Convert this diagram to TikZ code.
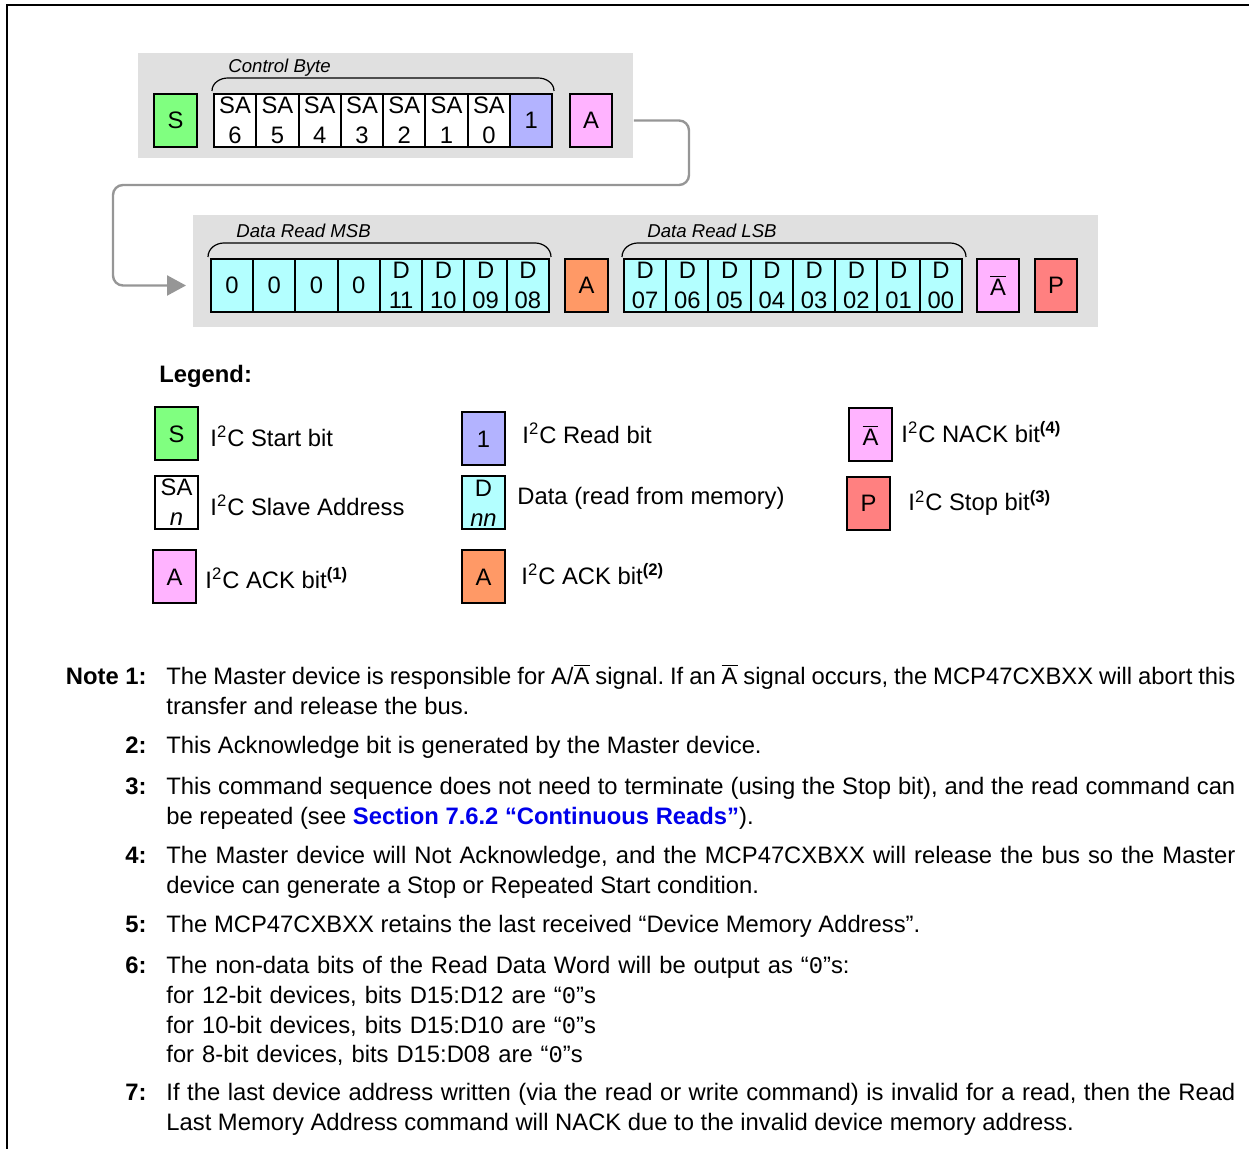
\documentclass[tikz,border=0pt]{standalone}
\usepackage{fontspec}
\setmainfont{Liberation Sans}
\setmonofont{Liberation Mono}
\usetikzlibrary{arrows.meta}
\definecolor{cS}{RGB}{128,255,128}
\definecolor{cR}{RGB}{179,179,255}
\definecolor{cA}{RGB}{255,179,255}
\definecolor{cD}{RGB}{179,255,255}
\definecolor{cO}{RGB}{255,153,102}
\definecolor{cP}{RGB}{255,128,128}
\definecolor{cG}{RGB}{224,224,224}
\definecolor{cL}{RGB}{150,150,150}
\definecolor{cBlue}{RGB}{0,0,235}
\newcommand\fsmain{\fontsize{11.9}{14.75}\selectfont}
\newcommand\fssmall{\fontsize{9.3}{11}\selectfont}
\newcommand\nA{$\overline{\mbox{A}}$}
\frenchspacing
\begin{document}
\begin{tikzpicture}[x=0.5pt,y=-0.5pt,
  bx/.style={draw, line width=1pt, inner sep=0pt, minimum width=21.15pt,
    minimum height=26.5pt, align=center, font=\fontsize{11.9}{15}\selectfont},
  panel/.style={fill=cG, draw=none, anchor=north west, inner sep=0pt},
  bracelbl/.style={anchor=west, inner sep=0pt, font=\fssmall\itshape},
  brace/.style={line width=0.6pt},
  conn/.style={draw=cL, line width=1.2pt, rounded corners=5pt,
    -{Triangle[length=9.5pt,width=10pt]}, fill=none},
  lgtext/.style={anchor=west, inner sep=0pt, font=\fsmain},
  notelbl/.style={anchor=base east, inner sep=0pt, font=\fsmain\bfseries},
  notetext/.style={anchor=base west, inner sep=0pt, font=\fsmain,
    text width=534.5pt, align=justify}]
\useasboundingbox (0,0) rectangle (1249,1149);
% frame
\draw[line width=1pt] (7,1149) -- (7,5) -- (1249,5);

% panels
\node[panel, minimum width=247.5pt, minimum height=52.5pt] (p1) at (138,53) {};
\node[panel, minimum width=452.5pt, minimum height=56pt] (p2) at (193,215) {};

% row 1
\node[bx, fill=cS] (s1) at (175.5,120.5) {S};
\foreach \i/\n in {0/6,1/5,2/4,3/3,4/2,5/1,6/0}
  \node[bx, fill=white] (sa\n) at ({235.1+42.3*\i},120.5) {SA\\\n};
\node[bx, fill=cR] (rd) at (531.2,120.5) {1};
\node[bx, fill=cA] (a1) at (591,120.5) {A};
\node[bracelbl] (cb) at (228,68) {Control Byte};
\draw[brace] (212,91) to[out=90,in=180] (228,78) -- (538,78) to[out=0,in=90] (554,91);

% connector
\coordinate (tipb) at (186,285.5);
\draw[conn] (p1.east |- a1.east) -- (689,120.5) -- (689,185) -- (113,185) -- (113,285.5) -- (tipb);

% row 2
\foreach \i in {0,...,3}
  \node[bx, fill=cD] (z\i) at ({232.1+42.25*\i},285.5) {0};
\foreach \i/\n in {4/11,5/10,6/09,7/08}
  \node[bx, fill=cD] (d\n) at ({232.1+42.25*\i},285.5) {D\\\n};
\node[bx, fill=cO] (a2) at (586.5,285.5) {A};
\foreach \i/\n in {0/07,1/06,2/05,3/04,4/03,5/02,6/01,7/00}
  \node[bx, fill=cD] (d\n) at ({645.1+42.25*\i},285.5) {D\\\n};
\node[bx, fill=cA] (na) at (998,285.5) {\nA};
\node[bx, fill=cP] (pp) at (1056,285.5) {P};
\node[bracelbl] (msb) at (236,231) {Data Read MSB};
\node[bracelbl] (lsb) at (647,231) {Data Read LSB};
\draw[brace] (208,257) to[out=90,in=180] (224,243) -- (535,243) to[out=0,in=90] (551,257);
\draw[brace] (622,257) to[out=90,in=180] (638,243) -- (950,243) to[out=0,in=90] (966,257);

% legend
\node[anchor=west, inner sep=0pt, font=\fsmain\bfseries] (lg) at (159,376) {Legend:};
\node[bx, fill=cS] (l1) at (176.5,434) {S};
\node[lgtext] (t1) at (210,436) {I\textsuperscript{2}C Start bit};
\node[bx, fill=white] (l2) at (176.5,502.5) {SA\\\textit{n}};
\node[lgtext] (t2) at (210,505) {I\textsuperscript{2}C Slave Address};
\node[bx, fill=cA] (l3) at (174.5,577) {A};
\node[lgtext] (t3) at (205,578) {I\textsuperscript{2}C ACK bit\textsuperscript{\textbf{(1)}}};
\node[bx, fill=cR] (l4) at (483.5,439) {1};
\node[lgtext] (t4) at (522,433) {I\textsuperscript{2}C Read bit};
\node[bx, fill=cD] (l5) at (483.5,503) {D\\\textit{nn}};
\node[lgtext] (t5) at (517,498) {Data (read from memory)};
\node[bx, fill=cO] (l6) at (483.5,577) {A};
\node[lgtext] (t6) at (521,574) {I\textsuperscript{2}C ACK bit\textsuperscript{\textbf{(2)}}};
\node[bx, fill=cA] (l7) at (870.5,435) {\nA};
\node[lgtext] (t7) at (901,432) {I\textsuperscript{2}C NACK bit\textsuperscript{\textbf{(4)}}};
\node[bx, fill=cP] (l8) at (868.5,503.5) {P};
\node[lgtext] (t8) at (908,503) {I\textsuperscript{2}C Stop bit\textsuperscript{\textbf{(3)}}};

% notes
\node[notelbl] (k1) at (147,685) {Note 1:};
\node[notetext] (n1) at (166,685) {The Master device is responsible for A/\nA{} signal. If an \nA{} signal occurs, the MCP47CXBXX will abort this\linebreak transfer and release the bus.};
\node[notelbl] (k2) at (147,754) {2:};
\node[notetext] (n2) at (166,754) {This Acknowledge bit is generated by the Master device.};
\node[notelbl] (k3) at (147,795) {3:};
\node[notetext] (n3) at (166,795) {This command sequence does not need to terminate (using the Stop bit), and the read command can\linebreak be repeated (see {\bfseries\color{cBlue}Section 7.6.2 “Continuous Reads”}).};
\node[notelbl] (k4) at (147,864) {4:};
\node[notetext] (n4) at (166,864) {The Master device will Not Acknowledge, and the MCP47CXBXX will release the bus so the Master\linebreak device can generate a Stop or Repeated Start condition.};
\node[notelbl] (k5) at (147,933) {5:};
\node[notetext] (n5) at (166,933) {The MCP47CXBXX retains the last received “Device Memory Address”.};
\node[notelbl] (k6) at (147,974) {6:};
\node[notetext, align=left] (n6) at (166,974) {The non-data bits of the Read Data Word will be output as “\texttt{0}”s:\\
for 12-bit devices, bits D15:D12 are “\texttt{0}”s\\
for 10-bit devices, bits D15:D10 are “\texttt{0}”s\\
for 8-bit devices, bits D15:D08 are “\texttt{0}”s};
\node[notelbl] (k7) at (147,1101) {7:};
\node[notetext] (n7) at (166,1101) {If the last device address written (via the read or write command) is invalid for a read, then the Read\linebreak Last Memory Address command will NACK due to the invalid device memory address.};
\end{tikzpicture}
\end{document}
